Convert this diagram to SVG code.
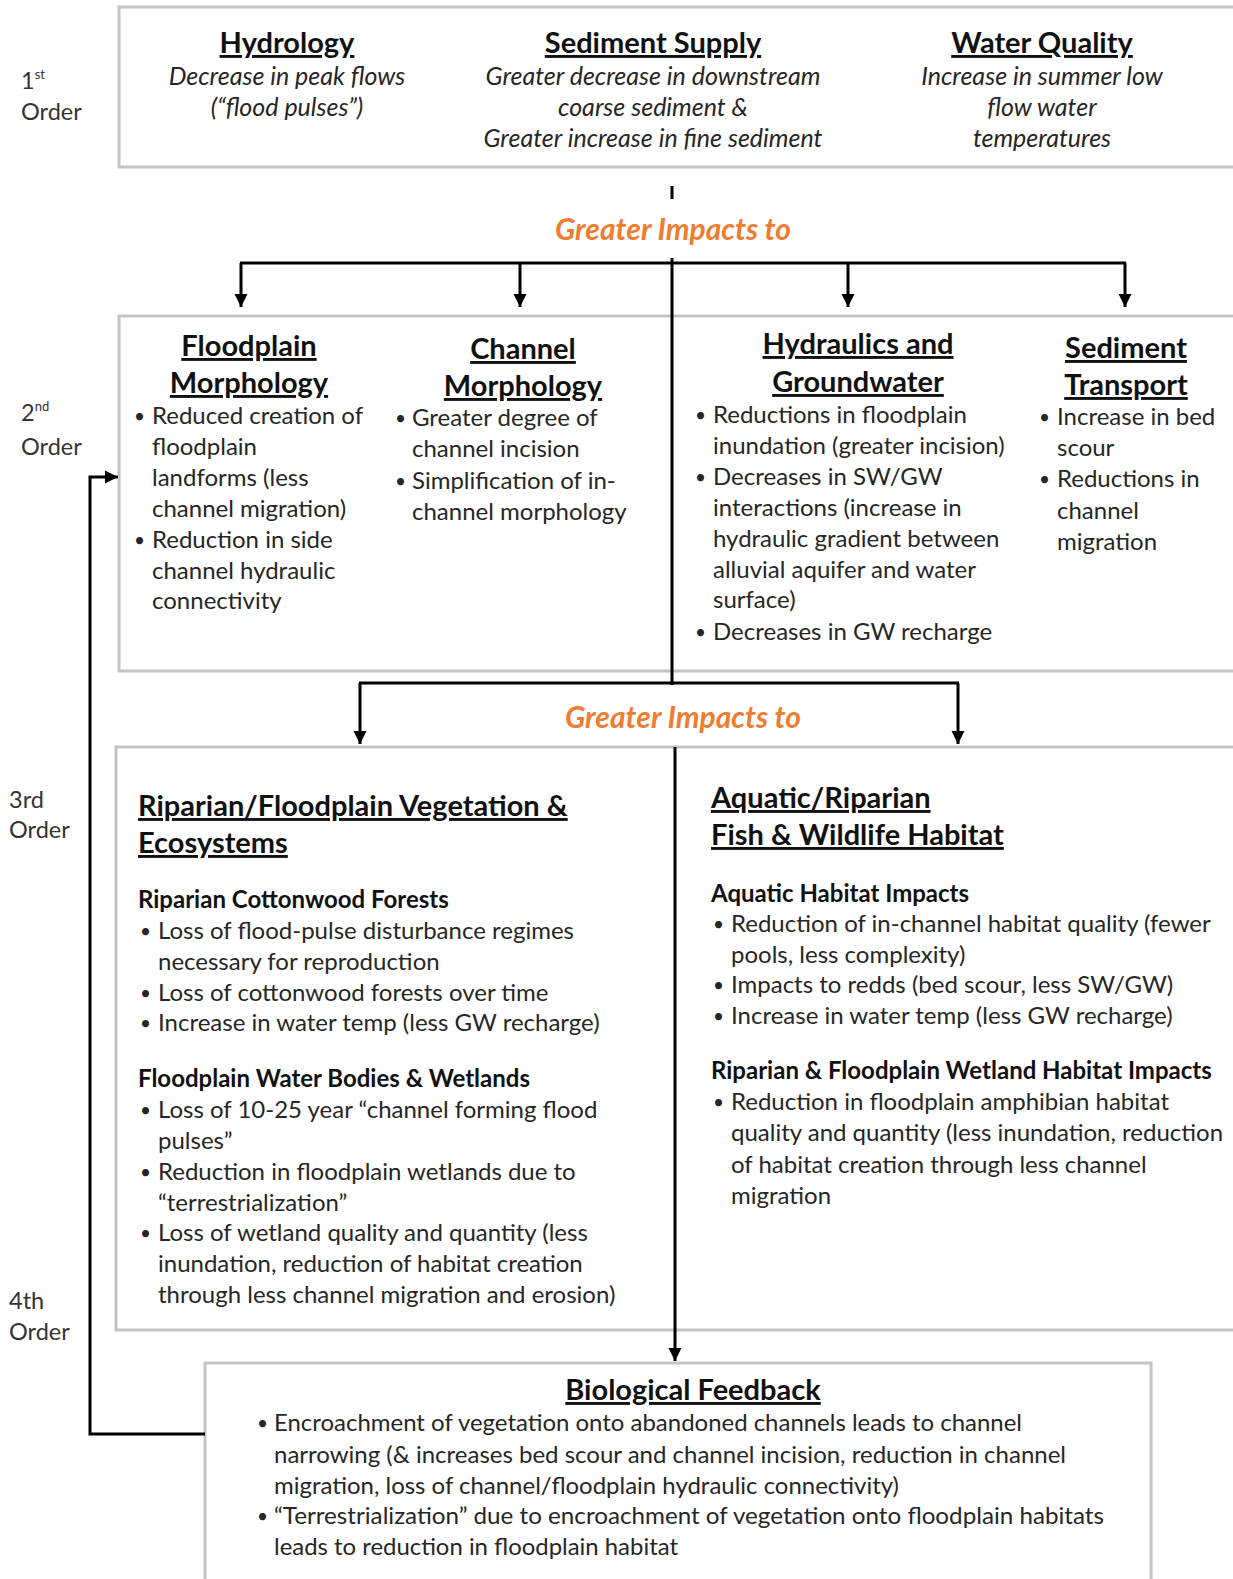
<svg xmlns="http://www.w3.org/2000/svg" width="1233" height="1579" viewBox="0 0 1233 1579">
<style>
text{font-family:Lato,"Liberation Sans",sans-serif;fill:#262626}
.b{font-size:24px}
.d{font-size:19px}
.i{font-size:25px;font-style:italic}
.t{font-size:29px;font-weight:bold;text-decoration:underline;fill:#111;text-anchor:middle}
.tl{font-size:29px;font-weight:bold;text-decoration:underline;fill:#111}
.h{font-size:24px;font-weight:bold;fill:#111}
.m{text-anchor:middle}
.o{font-size:30px;font-weight:bold;font-style:italic;fill:#ed7d31;text-anchor:middle}
.lbl{font-size:23.5px;fill:#333}
.box{fill:#fff;stroke:#c3c3c3;stroke-width:3}
.c{fill:none;stroke:#000;stroke-width:3}
</style>
<defs>
<marker id="ah" viewBox="0 0 10 10" refX="10" refY="5" markerWidth="4.5" markerHeight="4.5" orient="auto" markerUnits="strokeWidth">
<path d="M0,0 L10,5 L0,10 z" fill="#000"/>
</marker>
</defs>
<rect width="1233" height="1579" fill="#fff"/>

<g id="labels">
<text class="lbl" x="21" y="89">1<tspan font-size="13" dy="-10">st</tspan></text>
<text class="lbl" x="21" y="120">Order</text>
<text class="lbl" x="21" y="421">2<tspan font-size="13" dy="-10">nd</tspan></text>
<text class="lbl" x="21" y="455">Order</text>
<text class="lbl" x="9" y="808">3rd</text>
<text class="lbl" x="9" y="838">Order</text>
<text class="lbl" x="9" y="1309">4th</text>
<text class="lbl" x="9" y="1340">Order</text>
</g>

<g id="order1">
<rect class="box" x="119" y="7" width="1130" height="160"/>
<text class="t" x="287" y="53">Hydrology</text>
<text class="i m" x="287" y="85">Decrease in peak flows</text>
<text class="i m" x="287" y="116">(“flood pulses”)</text>
<text class="t" x="653" y="53">Sediment Supply</text>
<text class="i m" x="653" y="85">Greater decrease in downstream</text>
<text class="i m" x="653" y="116">coarse sediment &amp;</text>
<text class="i m" x="653" y="147">Greater increase in fine sediment</text>
<text class="t" x="1042" y="53">Water Quality</text>
<text class="i m" x="1042" y="85">Increase in summer low</text>
<text class="i m" x="1042" y="116">flow water</text>
<text class="i m" x="1042" y="147">temperatures</text>
</g>

<g id="order2">
<rect class="box" x="119" y="316" width="1130" height="355"/>
<text class="t" x="249" y="356">Floodplain</text>
<text class="t" x="249" y="393">Morphology</text>
<text class="d" x="134" y="423">•</text><text class="b" x="152" y="424">Reduced creation of</text>
<text class="b" x="152" y="455">floodplain</text>
<text class="b" x="152" y="486">landforms (less</text>
<text class="b" x="152" y="517">channel migration)</text>
<text class="d" x="134" y="547">•</text><text class="b" x="152" y="548">Reduction in side</text>
<text class="b" x="152" y="579">channel hydraulic</text>
<text class="b" x="152" y="609">connectivity</text>

<text class="t" x="523" y="359">Channel</text>
<text class="t" x="523" y="396">Morphology</text>
<text class="d" x="395" y="425">•</text><text class="b" x="412" y="426">Greater degree of</text>
<text class="b" x="412" y="457">channel incision</text>
<text class="d" x="395" y="488">•</text><text class="b" x="412" y="489">Simplification of in-</text>
<text class="b" x="412" y="520">channel morphology</text>

<text class="t" x="858" y="354">Hydraulics and</text>
<text class="t" x="858" y="392">Groundwater</text>
<text class="d" x="695" y="422">•</text><text class="b" x="713" y="423">Reductions in floodplain</text>
<text class="b" x="713" y="454">inundation (greater incision)</text>
<text class="d" x="695" y="484">•</text><text class="b" x="713" y="485">Decreases in SW/GW</text>
<text class="b" x="713" y="516">interactions (increase in</text>
<text class="b" x="713" y="547">hydraulic gradient between</text>
<text class="b" x="713" y="578">alluvial aquifer and water</text>
<text class="b" x="713" y="608">surface)</text>
<text class="d" x="695" y="639">•</text><text class="b" x="713" y="640">Decreases in GW recharge</text>

<text class="t" x="1126" y="358">Sediment</text>
<text class="t" x="1126" y="395">Transport</text>
<text class="d" x="1039" y="424">•</text><text class="b" x="1057" y="425">Increase in bed</text>
<text class="b" x="1057" y="456">scour</text>
<text class="d" x="1039" y="486">•</text><text class="b" x="1057" y="487">Reductions in</text>
<text class="b" x="1057" y="519">channel</text>
<text class="b" x="1057" y="550">migration</text>
</g>

<g id="order3">
<rect class="box" x="116" y="747" width="1133" height="583"/>
<text class="tl" x="138" y="816">Riparian/Floodplain Vegetation &amp;</text>
<text class="tl" x="138" y="853">Ecosystems</text>
<text class="h" x="138" y="908">Riparian Cottonwood Forests</text>
<text class="d" x="140" y="938">•</text><text class="b" x="158" y="939">Loss of flood-pulse disturbance regimes</text>
<text class="b" x="158" y="970">necessary for reproduction</text>
<text class="d" x="140" y="1000">•</text><text class="b" x="158" y="1001">Loss of cottonwood forests over time</text>
<text class="d" x="140" y="1030">•</text><text class="b" x="158" y="1031">Increase in water temp (less GW recharge)</text>
<text class="h" x="138" y="1087">Floodplain Water Bodies &amp; Wetlands</text>
<text class="d" x="140" y="1117">•</text><text class="b" x="158" y="1118">Loss of 10-25 year “channel forming flood</text>
<text class="b" x="158" y="1149">pulses”</text>
<text class="d" x="140" y="1179">•</text><text class="b" x="158" y="1180">Reduction in floodplain wetlands due to</text>
<text class="b" x="158" y="1211">“terrestrialization”</text>
<text class="d" x="140" y="1240">•</text><text class="b" x="158" y="1241">Loss of wetland quality and quantity (less</text>
<text class="b" x="158" y="1272">inundation, reduction of habitat creation</text>
<text class="b" x="158" y="1303">through less channel migration and erosion)</text>

<text class="tl" x="711" y="808">Aquatic/Riparian</text>
<text class="tl" x="711" y="845">Fish &amp; Wildlife Habitat</text>
<text class="h" x="711" y="902">Aquatic Habitat Impacts</text>
<text class="d" x="713" y="931">•</text><text class="b" x="731" y="932">Reduction of in-channel habitat quality (fewer</text>
<text class="b" x="731" y="963">pools, less complexity)</text>
<text class="d" x="713" y="992">•</text><text class="b" x="731" y="993">Impacts to redds (bed scour, less SW/GW)</text>
<text class="d" x="713" y="1023">•</text><text class="b" x="731" y="1024">Increase in water temp (less GW recharge)</text>
<text class="h" x="711" y="1079">Riparian &amp; Floodplain Wetland Habitat Impacts</text>
<text class="d" x="713" y="1109">•</text><text class="b" x="731" y="1110">Reduction in floodplain amphibian habitat</text>
<text class="b" x="731" y="1141">quality and quantity (less inundation, reduction</text>
<text class="b" x="731" y="1173">of habitat creation through less channel</text>
<text class="b" x="731" y="1204">migration</text>
</g>

<g id="order4">
<rect class="box" x="205" y="1363" width="946" height="230"/>
<text class="t" x="693" y="1400">Biological Feedback</text>
<text class="d" x="257" y="1430">•</text><text class="b" x="274" y="1431" textLength="748" lengthAdjust="spacingAndGlyphs">Encroachment of vegetation onto abandoned channels leads to channel</text>
<text class="b" x="274" y="1463" textLength="792" lengthAdjust="spacingAndGlyphs">narrowing (&amp; increases bed scour and channel incision, reduction in channel</text>
<text class="b" x="274" y="1494" textLength="625" lengthAdjust="spacingAndGlyphs">migration, loss of channel/floodplain hydraulic connectivity)</text>
<text class="d" x="257" y="1523">•</text><text class="b" x="274" y="1524" textLength="830" lengthAdjust="spacingAndGlyphs">“Terrestrialization” due to encroachment of vegetation onto floodplain habitats</text>
<text class="b" x="274" y="1555" textLength="404" lengthAdjust="spacingAndGlyphs">leads to reduction in floodplain habitat</text>
</g>

<g id="connectors">
<line class="c" x1="672" y1="186" x2="672" y2="199"/>
<text class="o" x="673" y="240">Greater Impacts to</text>
<line class="c" x1="672" y1="258" x2="672" y2="685"/>
<line class="c" x1="240" y1="263" x2="1126" y2="263"/>
<line class="c" x1="241" y1="263" x2="241" y2="307" marker-end="url(#ah)"/>
<line class="c" x1="520" y1="263" x2="520" y2="307" marker-end="url(#ah)"/>
<line class="c" x1="848" y1="263" x2="848" y2="307" marker-end="url(#ah)"/>
<line class="c" x1="1125" y1="263" x2="1125" y2="307" marker-end="url(#ah)"/>
<line class="c" x1="359" y1="683" x2="959" y2="683"/>
<line class="c" x1="360" y1="683" x2="360" y2="744" marker-end="url(#ah)"/>
<line class="c" x1="958" y1="683" x2="958" y2="744" marker-end="url(#ah)"/>
<text class="o" x="683" y="728">Greater Impacts to</text>
<line class="c" x1="675" y1="747" x2="675" y2="1361" marker-end="url(#ah)"/>
<path class="c" d="M205 1434 H90 V477 H118" marker-end="url(#ah)"/>
</g>
</svg>
